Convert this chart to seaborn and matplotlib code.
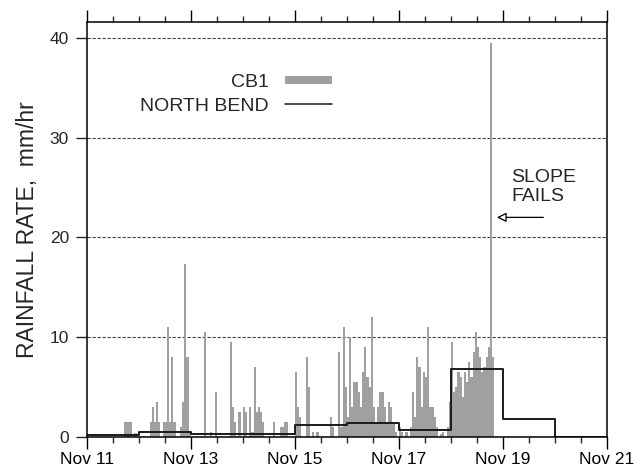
import numpy as np
import pandas as pd
import matplotlib
matplotlib.use("Agg")
import matplotlib.pyplot as plt
from matplotlib.lines import Line2D
from matplotlib.ticker import MultipleLocator
import seaborn as sns

# hourly CB1 rainfall rate (mm/hr), one list per day, hours 0..23
cb1_nov11 = [0, 0, 0, 0, 0, 0, 0, 0, 0, 0, 0, 0, 0, 0, 0, 0, 0, 1.5, 1.5, 1.5, 1.5, 0, 0.4, 0]
cb1_nov12 = [0, 0, 0, 0, 0, 1.5, 3.0, 1.5, 3.5, 1.5, 0, 1.5, 1.5, 11.0, 1.5, 8.0, 1.5, 0, 0, 1.0, 3.5, 17.3, 8.0, 0.5]
cb1_nov13 = [0, 0, 0, 0, 0, 0, 10.5, 0, 0, 0.5, 0, 4.5, 0, 0, 0, 0, 0, 0, 9.5, 3.0, 1.5, 0, 2.5, 0]
cb1_nov14 = [3.0, 2.5, 0, 3.0, 0.5, 7.0, 2.5, 3.0, 2.5, 1.5, 0, 0, 0, 0, 1.5, 0, 0, 1.0, 1.0, 1.5, 1.5, 0, 0, 0]
cb1_nov15 = [6.5, 3.0, 2.0, 0, 0, 8.0, 5.0, 0, 0.5, 0, 0.5, 0, 0, 0, 0, 0, 2.0, 1.0, 0, 0, 8.5, 1.0, 11.0, 5.0]
cb1_nov16 = [2.0, 10.0, 3.0, 5.5, 5.5, 4.5, 3.0, 6.5, 9.0, 6.0, 5.0, 12.0, 3.0, 1.5, 3.0, 4.5, 4.5, 3.0, 1.5, 3.5, 3.0, 1.5, 0.5, 0]
cb1_nov17 = [1.0, 0.5, 0, 0.5, 0, 1.0, 4.5, 2.0, 8.0, 7.0, 3.0, 6.5, 6.0, 11.0, 3.0, 3.0, 2.0, 1.0, 0, 0.3, 0.5, 0, 1.0, 3.5]
cb1_nov18 = [9.5, 4.5, 5.0, 6.5, 6.0, 4.0, 6.5, 5.5, 7.5, 6.0, 8.5, 10.5, 9.0, 8.0, 6.5, 7.0, 8.0, 9.0, 39.5, 8.0, 0, 0, 0, 0]

# North Bend daily rainfall rate (mm/hr), step starting on each day
nb_days = [11, 12, 13, 14, 15, 16, 17, 18, 19, 20, 21]
nb_rate = [0.2, 0.55, 0.3, 0.3, 1.2, 1.37, 0.75, 6.8, 1.85, 0, 0]

day_ticks = [11, 13, 15, 17, 19, 21]
day_labels = ["Nov 11", "Nov 13", "Nov 15", "Nov 17", "Nov 19", "Nov 21"]

sns.set_theme(style="ticks")
plt.rcParams["font.family"] = ["Liberation Sans", "DejaVu Sans"]
plt.rcParams["axes.linewidth"] = 1.1

cb1_days = [cb1_nov11, cb1_nov12, cb1_nov13, cb1_nov14, cb1_nov15, cb1_nov16, cb1_nov17, cb1_nov18]
rows = []
for d, vals in enumerate(cb1_days):
    for h, v in enumerate(vals):
        rows.append({"time": 11 + d + (h + 0.5) / 24, "rate": v})
cb1 = pd.DataFrame(rows)
nb = pd.DataFrame({"time": nb_days, "rate": nb_rate})

fig = plt.figure(figsize=(6.41, 4.69), dpi=100)
ax = fig.add_axes([86.7 / 641, 1 - 437 / 469, (607 - 86.7) / 641, (437 - 21.7) / 469])

gray = "#a0a0a0"
sns.barplot(data=cb1, x="time", y="rate", native_scale=True, width=1, color=gray,
            saturation=1, linewidth=0, errorbar=None, ax=ax)
sns.lineplot(data=nb, x="time", y="rate", drawstyle="steps-post", color="#1a1a1a",
             lw=1.4, ax=ax)

ax.set_xlim(11, 21)
ax.set_ylim(0, 41.6)
ax.set_xticks(day_ticks)
ax.set_xticklabels(day_labels)
ax.xaxis.set_minor_locator(MultipleLocator(0.5))
ax.set_yticks([0, 10, 20, 30, 40])
ax.set_xlabel("")
ax.set_ylabel("RAINFALL RATE,  mm/hr", fontsize=16.5, labelpad=8)

ax.tick_params(axis="x", which="major", direction="out", length=8.6, width=1.0,
               top=True, labelsize=12.5, pad=2.5, colors="black")
ax.tick_params(axis="x", which="minor", direction="out", length=4.3, width=1.0, top=True)
ax.tick_params(axis="y", which="major", direction="out", length=7.7, width=1.0,
               right=False, labelsize=12.5, pad=5)
for s in ax.spines.values():
    s.set_color("black")
    s.set_linewidth(1.1)

ax.yaxis.grid(True, linestyle=(0, (3, 1.5)), color="#444444", lw=0.8)
ax.set_axisbelow(True)

handles = [Line2D([], [], color=gray, lw=5.8, solid_capstyle="butt"),
           Line2D([], [], color="#1a1a1a", lw=1.1)]
ax.legend(handles=handles, labels=["CB1", "NORTH BEND"], markerfirst=False,
          frameon=False, fontsize=14, handlelength=2.4, handletextpad=0.85,
          labelspacing=0.35, loc="upper right", bbox_to_anchor=(332 / 641, 1 - 73 / 469),
          bbox_transform=fig.transFigure, borderpad=0, borderaxespad=0)

ax.annotate("", xy=(18.83, 22.0), xytext=(19.83, 22.0),
            arrowprops=dict(arrowstyle="-|>", fc="white", ec="black", lw=0.9,
                            mutation_scale=14))
ax.text(19.16, 25.0, "SLOPE\nFAILS", fontsize=14, ha="left", va="center", linespacing=1.15)

fig.savefig("out.png", dpi=100)
